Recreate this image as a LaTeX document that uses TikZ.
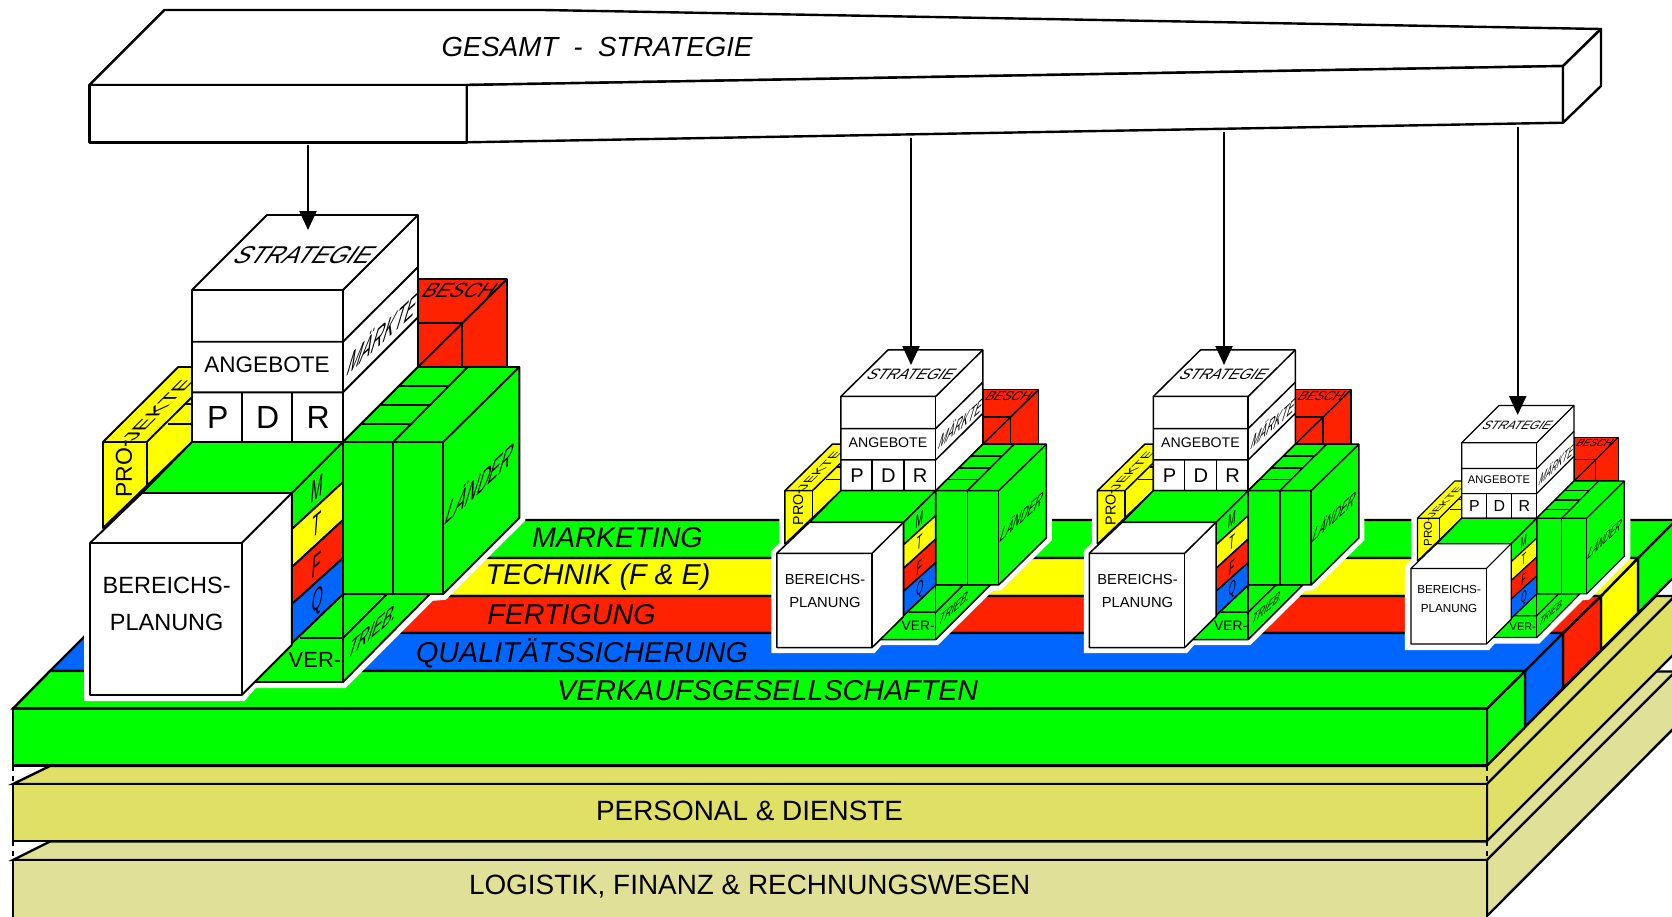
\documentclass[tikz,border=0pt]{standalone}
\usepackage{fontspec}
\setmainfont{Liberation Sans}
\usetikzlibrary{arrows.meta}
\definecolor{bgreen}{HTML}{00FF00}
\definecolor{byellow}{HTML}{FFFF00}
\definecolor{bred}{HTML}{FF2200}
\definecolor{bblue}{HTML}{0066FF}
\definecolor{khakia}{HTML}{E0E066}
\definecolor{khakib}{HTML}{E0E099}
\newcommand\fsz[1]{\fontsize{#1}{#1}\selectfont}
\tikzset{
 layerline/.style={draw=black,line width=2.4pt,line join=miter},
 bandtext/.style={inner sep=0pt,font=\fsz{28.7}\itshape},
 plaintext/.style={inner sep=0pt,font=\fsz{27.9}},
 flowarrow/.style={draw=black,line width=2.3pt,-{Triangle[length=19pt,width=17pt]}},
 lbl/.style={inner sep=0pt,text=black},
 sidetext/.style={lbl,cm={1.02,.93,.69,2.3,(0,0)}},
 bandletter/.style={lbl,cm={.9,.75,.15,2,(0,0)},font=\fsz{16}},
 toptext/.style={lbl,xslant=0.7},
}
\newcommand\assembly[7]{%
\begin{scope}[shift={(#2,#3)},xscale=#4,yscale=#7,shift={(-343,-442)},transform shape,name prefix=#1-,line width=#5pt,line join=round]
 % white halo round the silhouette
 \path[fill=white,draw=white,line width=#6pt,line join=miter]
  (90,543)--(90,695)--(241.7,695)--(253,682)--(343,682)--(430,595)--(443,594)--(519.3,518)--(519.3,367)--(507,367)--(507,279)--(418,279)--(418,215)--(267,215)--(192,290)--(192,367)--(178,367)--(103,442)--(103,530)--cycle;
 % red block
 \path[fill=bred,draw=black] (418,279) rectangle (507,367);
 \draw (507,279)--(418,367);
 \draw (418,323)--(462,323)--(462,367);
 \node[toptext,font=\fsz{20.5}] (besch) at (460,290) {BESCH};
 % yellow block
 \path[fill=byellow,draw=black] (103,528)--(103,442)--(178.3,367)--(192,367)--(192,442)--cycle;
 \draw (103,442)--(146.7,442)--(192,397);
 \draw (146.7,442)--(146.7,487);
 \draw (168,424)--(192,424);
 \draw (186,404)--(192,404);
 \node[lbl,rotate=90,font=\fsz{23}] (pro) at (124,469) {PRO-};
 \node[lbl,cm={1,1,-1,0,(0,0)},font=\fsz{20}] (jekte) at (158,410) {JEKTE};
 % white strategy block
 \path[fill=white,draw=black] (192,290)--(267,215)--(418,215)--(418,367)--(343,442)--(192,442)--cycle;
 \draw (192,290)--(343,290)--(418,215);
 \draw (343,290)--(343,442);
 \draw (192,341.7)--(343,341.7)--(418,267);
 \draw (192,392.3)--(343,392.3)--(418,317.3);
 \draw (241.7,392.3)--(241.7,442);
 \draw (292.3,392.3)--(292.3,442);
 \node[toptext,font=\fsz{24.3}] (strategie) at (305,255) {STRATEGIE};
 \node[lbl,font=\fsz{22.5}] (angebote) at (267,365) {ANGEBOTE};
 \node[lbl,font=\fsz{32}] (p) at (217.7,417) {P};
 \node[lbl,font=\fsz{32}] (d) at (267.7,417) {D};
 \node[lbl,font=\fsz{32}] (r) at (318.3,417) {R};
 \node[sidetext,font=\fsz{16}] (maerkte) at (384,331) {MÄRKTE};
 % green top of the desk
 \path[fill=bgreen,draw=black] (192,442)--(343,442)--(292,493)--(142,493)--cycle;
 % green base
 \path[fill=bgreen,draw=black] (253,682)--(343,682)--(430,594)--(343,594)--(292,643)--cycle;
 \draw (300,638)--(343,638)--(387,594);
 % green Laender block
 \path[fill=bgreen,draw=black] (343,442)--(418,367)--(519.3,367)--(519.3,518)--(443.3,594)--(343,594)--cycle;
 \draw (343,442)--(443.3,442)--(519.3,367);
 \draw (443.3,442)--(443.3,594);
 \draw (393.3,442)--(393.3,594);
 \draw (393.3,442)--(467.7,367);
 \draw (361.7,424)--(411.7,424);
 \draw (380,405)--(430.5,405);
 \draw (398.3,386)--(449,386);
 \draw (343,442)--(343,682);
 \node[sidetext,font=\fsz{16}] (laender) at (481,481) {LÄNDER};
 % M T F Q
 \path[fill=bgreen,draw=black] (292,493)--(343,442)--(343,482)--(292,529)--cycle;
 \path[fill=byellow,draw=black] (292,529)--(343,482)--(343,520)--(292,567)--cycle;
 \path[fill=bred,draw=black] (292,567)--(343,520)--(343,558)--(292,604)--cycle;
 \path[fill=bblue,draw=black] (292,604)--(343,558)--(343,594)--(292,643)--cycle;
 \node[bandletter] (m) at (317,488) {M};
 \node[bandletter] (t) at (317,525) {T};
 \node[bandletter] (f) at (317,565) {F};
 \node[bandletter] (q) at (317.5,601.7) {Q};
 \node[lbl,font=\fsz{22}] (ver) at (315,660) {VER-};
 \node[lbl,cm={1,.87,.6,1.9,(0,0)},font=\fsz{15}] (trieb) at (373.5,630) {TRIEB.};
 % Bereichsplanung cube
 \path[fill=white,draw=black] (90,543)--(142,493)--(291.7,493)--(291.7,645)--(241.7,695)--(90,695)--cycle;
 \draw (90,543)--(241.7,543)--(291.7,493);
 \draw (241.7,543)--(241.7,695);
 \node[lbl,font=\fsz{23.5}] (bereichs) at (166.7,585) {BEREICHS-};
 \node[lbl,font=\fsz{23.5}] (planung) at (166.7,622.7) {PLANUNG};
\end{scope}}
\begin{document}
\begin{tikzpicture}[x=1pt,y=-1pt]
\useasboundingbox (0,0) rectangle (1672,916);
\clip (0,0) rectangle (1672,916);
\fill[white] (0,0) rectangle (1672,916);
% overall strategy panel
\begin{scope}[line width=2.4pt,line join=round]
 \path[fill=white,draw=black] (89.3,85)--(164.3,10)--(542.7,10)--(1601,29)--(1563,66)--(466.7,85)--cycle;
 \path[fill=white,draw=black] (89.3,85) rectangle (466.7,142.3);
 \path[fill=white,draw=black] (466.7,85)--(1563,66)--(1563,122.7)--(466.7,142.3)--cycle;
 \path[fill=white,draw=black] (1563,66)--(1601,29)--(1601,86)--(1563,122.7)--cycle;
\end{scope}
\node[bandtext,font=\fsz{27.6}\itshape] (gesamt) at (597,47) {GESAMT\ \ -\ \ STRATEGIE};
% Logistik layer
\begin{scope}[every path/.style={layerline}]
 \path[fill=khakib] (13,860)--(50,841.5)--(1486,841.5)--(1656,671.5)--(1680,671.5)--(1680,667)--(1487,860)--cycle;
 \path[fill=khakib] (1487,860)--(1680,667)--(1680,722)--(1487,916)--cycle;
 \path[fill=khakib] (13,860) rectangle (1487,918);
 \path[fill=khakia] (13,784)--(50,766)--(1486,766)--(1656,596)--(1680,596)--(1680,591)--(1487,784)--cycle;
 \path[fill=khakia] (1487,784)--(1680,591)--(1680,648)--(1487,841)--cycle;
 \path[fill=khakia] (13,784) rectangle (1487,841);
 % bands, back to front
 \path[fill=bgreen] (1638,558)--(1680,516)--(1680,571)--(1638,613)--cycle;
 \path[fill=bgreen] (202,520)--(1680,520)--(1680,516)--(1638,558)--(164,558)--cycle;
 \path[fill=byellow] (1601,596)--(1638,558)--(1638,613)--(1601,650)--cycle;
 \path[fill=byellow] (164,558)--(1638,558)--(1601,596)--(126,596)--cycle;
 \path[fill=bred] (1563,633)--(1601,596)--(1601,650)--(1563,688)--cycle;
 \path[fill=bred] (126,596)--(1601,596)--(1563,633)--(88,633)--cycle;
 \path[fill=bblue] (1525,671)--(1563,633)--(1563,688)--(1525,727)--cycle;
 \path[fill=bblue] (88,633)--(1563,633)--(1525,671)--(50,671)--cycle;
 \path[fill=bgreen] (1487,708.5)--(1525,671)--(1525,727)--(1487,765.5)--cycle;
 \path[fill=bgreen] (50,671)--(1525,671)--(1487,708.5)--(13,708.5)--cycle;
 \path[fill=bgreen] (13,708.5) rectangle (1487,765.5);
\end{scope}
\draw[line width=2.4pt,dash pattern=on 5pt off 5pt] (13,766)--(13,784) (1487,766)--(1487,784) (13,841)--(13,860) (1487,841)--(1487,860);
\node[bandtext] (marketing) at (617.5,538) {MARKETING};
\node[bandtext] (technik) at (598,577) {TECHNIK\ (F \& E)};
\node[bandtext] (fertigung) at (571.5,614.5) {FERTIGUNG};
\node[bandtext] (qualitaet) at (582,653) {QUALITÄTSSICHERUNG};
\node[bandtext] (verkauf) at (767.7,691) {VERKAUFSGESELLSCHAFTEN};
\node[plaintext] (personal) at (749.6,811) {PERSONAL \& DIENSTE};
\node[plaintext] (logistik) at (749.6,887) {LOGISTIK, FINANZ \& RECHNUNGSWESEN};
% assemblies
\assembly{a1}{343}{442}{1}{1.9}{12}{1}
\assembly{a2}{935.7}{490.7}{0.628}{1.5}{11}{0.62}
\assembly{a3}{1248.2}{490.7}{0.628}{1.5}{11}{0.62}
\assembly{a4}{1536.7}{518.3}{0.497}{1.2}{12}{0.497}
% connectors
\coordinate (out1) at (308,145);
\coordinate (out2) at (911,138);
\coordinate (out3) at (1224,132);
\coordinate (out4) at (1517.7,127);
\coordinate (in1) at (308,230);
\coordinate (in2) at (911,365);
\coordinate (in3) at (1224,365);
\coordinate (in4) at (1517.7,415);
\draw[flowarrow] (out1)--(in1);
\draw[flowarrow] (out2)--(in2);
\draw[flowarrow] (out3)--(in3);
\draw[flowarrow] (out4)--(in4);
\end{tikzpicture}
\end{document}
